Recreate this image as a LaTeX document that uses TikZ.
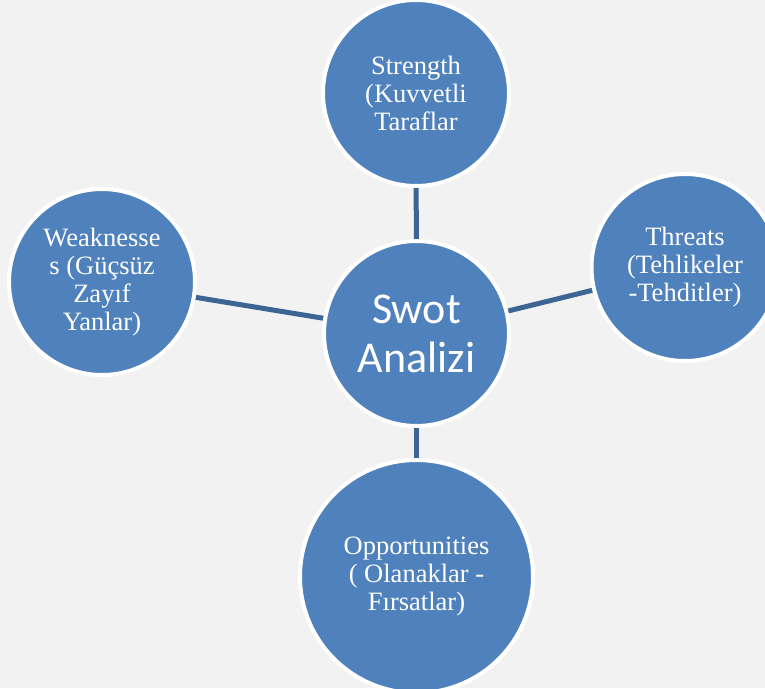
\documentclass[tikz,border=0pt]{standalone}
\usepackage{fontspec}
\setmainfont{Liberation Serif}
\newfontfamily\calibrifont{Carlito}
\usetikzlibrary{backgrounds}
\definecolor{bgc}{HTML}{F2F2F2}
\definecolor{blobc}{HTML}{4F81BD}
\definecolor{linkc}{HTML}{3C6595}
\tikzset{
  swotcircle/.style={circle, fill=blobc, draw=white, line width=4pt, inner sep=0pt, outer sep=0pt,
    text=white, align=center, font=\fontsize{26.5}{28}\selectfont},
  swotlink/.style={draw=linkc, line width=5pt}
}
\begin{document}
\begin{tikzpicture}
\useasboundingbox (0,0) rectangle (765pt,-688pt);
\node[swotcircle, minimum size=185pt, font=\calibrifont\fontsize{44}{49}\selectfont] (c) at (416.5pt,-333.5pt) {Swot\\Analizi};
\node[swotcircle, minimum size=186pt] (s) at (416pt,-93pt) {Strength\\(Kuvvetli\\Taraflar};
\node[swotcircle, minimum size=187pt] (t) at (685pt,-267.5pt) {Threats\\(Tehlikeler\\-Tehditler)};
\node[swotcircle, minimum size=186pt] (w) at (102pt,-282pt) {Weaknesse\\s (Güçsüz\\Zayıf\\Yanlar)};
\node[swotcircle, minimum size=233pt] (o) at (416.5pt,-576.5pt) {Opportunities\\( Olanaklar -\\Fırsatlar)};
\begin{scope}[on background layer]
\fill[bgc] (0,0) rectangle (765pt,-688pt);
\draw[swotlink] (c.center) -- (s.center);
\draw[swotlink] (c.center) -- (t.center);
\draw[swotlink] (c.center) -- (w.center);
\draw[swotlink] (c.center) -- (o.center);
\end{scope}
\end{tikzpicture}
\end{document}
